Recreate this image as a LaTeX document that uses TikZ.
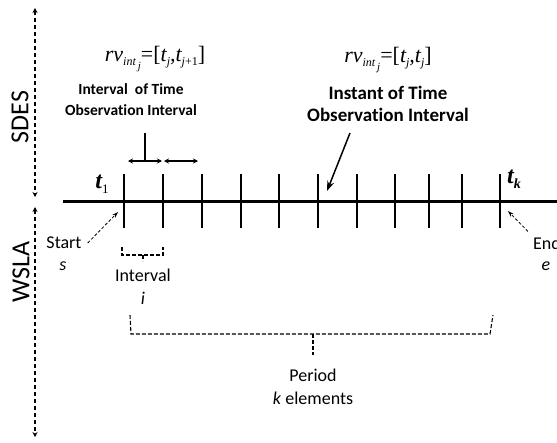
\documentclass[tikz,border=0pt]{standalone}
\usepackage{fontspec}
\setmainfont[Ligatures={NoCommon}]{Carlito}
\newfontfamily\tnr{Liberation Serif}
\usetikzlibrary{arrows.meta}
\newcommand{\sbs}[1]{\raisebox{-0.45ex}{\fontsize{12}{12}\selectfont #1}}
\newcommand{\sbb}[1]{\raisebox{-0.7ex}{\fontsize{11}{11}\selectfont #1}}
\tikzset{
  axis/.style={line width=3pt},
  tick/.style={line width=2.4pt},
  span/.style={dashed, line width=1.2pt, dash pattern=on 4pt off 3pt, {Stealth[length=5pt,width=5pt]}-{Stealth[length=5pt,width=5pt]}},
  brace/.style={dashed, line width=1.1pt, dash pattern=on 4pt off 2pt},
  hint/.style={densely dashed, line width=0.8pt, -{Stealth[length=6pt,width=4pt,open]}},
  lbl/.style={inner sep=0pt, font=\fontsize{18}{22}\selectfont},
  bold/.style 2 args={inner sep=0pt, align=center, font=\bfseries\fontsize{#1}{#2}\selectfont},
  eq/.style={inner sep=0pt, font=\tnr\itshape\fontsize{22}{22}\selectfont}
}
\begin{document}
\begin{tikzpicture}[x=1pt,y=-1pt]
\useasboundingbox (0,0) rectangle (557,442);
\draw[span] (35,8) -- (35,197);
\draw[span] (35,207) -- (35,437);
\node[rotate=90, inner sep=0pt, font=\fontsize{26}{26}\selectfont] (sdes) at (20,117) {SDES};
\node[rotate=90, inner sep=0pt, font=\fontsize{26}{26}\selectfont] (wsla) at (21,272) {WSLA};
\draw[axis, -{Stealth[length=9pt,width=8pt]}] (63,201) -- (566,201);
\foreach \x [count=\i] in {124,163,202,241,279,318,357,395,429,462,500}
  \draw[tick] (\x,174) coordinate (tk\i) -- (\x,228);
\node[inner sep=0pt, font=\tnr\bfseries\itshape\fontsize{24}{24}\selectfont] (tfirst) at (102,184) {t\raisebox{-0.5ex}{\fontsize{13}{13}\selectfont\mdseries\upshape 1}};
\node[inner sep=0pt, font=\tnr\bfseries\itshape\fontsize{24}{24}\selectfont] (tlast) at (514,179) {t\raisebox{-0.5ex}{\fontsize{14}{14}\selectfont k}};
\node[eq] (eqinterval) at (155,59) {rv\sbs{int\,\sbb{j}}\upshape{}=[\itshape t\sbs{j},t\sbs{j\upshape+1}\upshape]};
\node[bold={15.5}{21}] (txtinterval) at (131,100) {Interval\ \ of Time\\Observation Interval};
\node[eq] (eqinstant) at (388,60) {rv\sbs{int\,\sbb{j}}\upshape{}=[\itshape t\sbs{j},t\sbs{j}\upshape]};
\node[bold={19}{22}] (txtinstant) at (388,104) {Instant of Time\\Observation Interval};
\coordinate (stem) at (145,133);
\coordinate (cross) at (145,161);
\draw[line width=1.3pt] (stem) -- (cross);
\draw[line width=1.3pt, {Stealth[length=5pt,width=5pt]}-{Stealth[length=5pt,width=5pt]}] (128,161) -- (162,161);
\draw[line width=1.3pt, {Stealth[length=5pt,width=5pt]}-{Stealth[length=5pt,width=5pt]}] (164,161) -- (198,161);
\coordinate (instfrom) at (350,133);
\coordinate (insto) at (327,191);
\draw[line width=1.5pt, -{Stealth[length=10pt,width=7pt]}] (instfrom) -- (insto);
\node[lbl] (start) at (64,243) {Start};
\node[lbl, font=\itshape\fontsize{18}{22}\selectfont] (svar) at (63,266) {s};
\node[lbl] (end) at (547,243) {End};
\node[lbl, font=\itshape\fontsize{18}{22}\selectfont] (evar) at (546,266) {e};
\coordinate (startto) at (118,212);
\coordinate (endto) at (508,211);
\draw[hint] (start.east) ++(6,0) -- (startto);
\draw[hint] (end.north west) ++(-5,-5) -- (endto);
\draw[brace] (122,247) -- (122,255) -- (163,255) -- (163,247);
\draw[brace] (143,255) -- (143,261);
\node[lbl] (interval) at (143,275) {Interval};
\node[lbl, font=\itshape\fontsize{18}{22}\selectfont] (ivar) at (143,298) {i};
\draw[brace] (130,315) -- (131,334) -- (490,334) -- (493,315);
\draw[brace] (313,334) -- (313,355);
\node[lbl] (period) at (313,375) {Period};
\node[lbl] (kelem) at (313,398) {\textit{k} elements};
\end{tikzpicture}
\end{document}
